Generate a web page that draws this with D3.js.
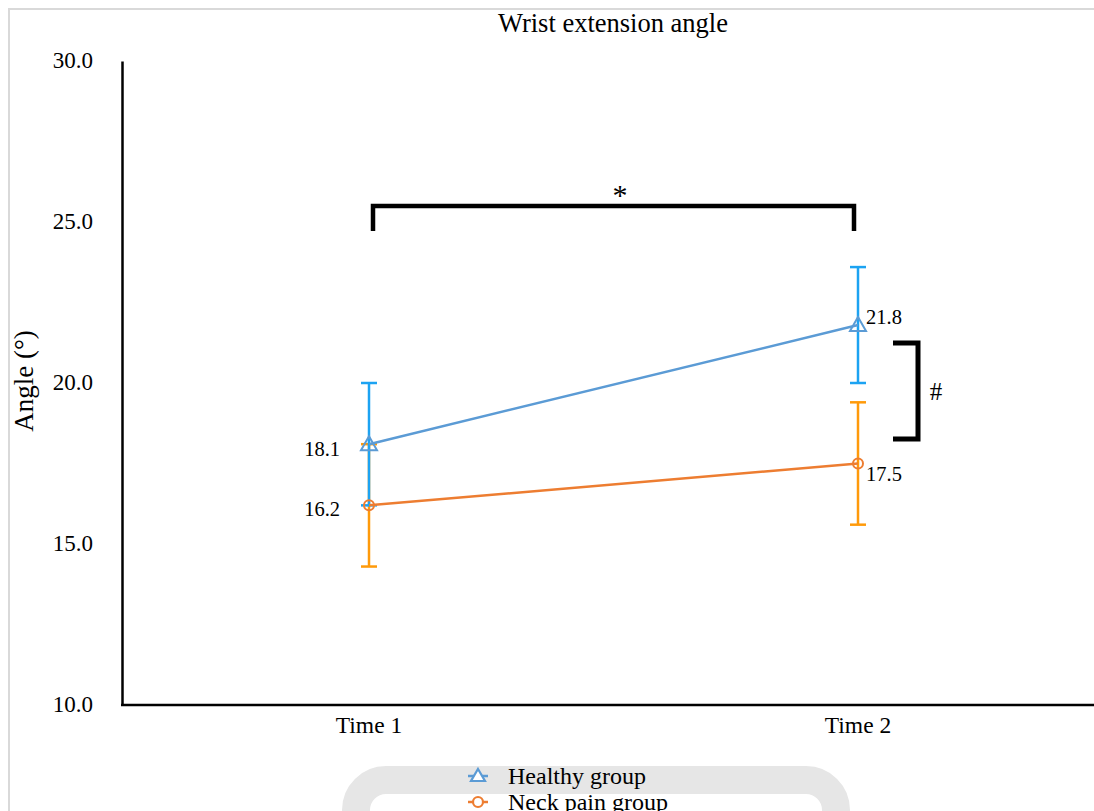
<!DOCTYPE html>
<html>
<head>
<meta charset="utf-8">
<script src="https://cdn.jsdelivr.net/npm/d3@7"></script>
<style>
  body { margin: 0; background: #fff; }
  svg { display: block; font-family: "Liberation Serif", "Times New Roman", serif; }
</style>
</head>
<body>
<div id="chart"></div>
<script>
// data
const categories = ["Time 1", "Time 2"];
const healthy = [18.1, 21.8];
const healthySd = [1.9, 1.8];
const neckPain = [16.2, 17.5];
const neckPainSd = [1.9, 1.9];
const yTicks = [10, 15, 20, 25, 30];

const W = 1094, H = 811;
const svg = d3.select("#chart").append("svg").attr("width", W).attr("height", H);

// outer frame (only left + top visible)
svg.append("path").attr("d", `M 9 ${H} V 9 H ${W}`)
  .attr("fill", "none").attr("stroke", "#d9d9d9").attr("stroke-width", 2);

const y = d3.scaleLinear().domain([10, 30]).range([705, 61]);
const x = d3.scalePoint().domain(categories).range([369, 858]);

// title
svg.append("text").attr("x", 613).attr("y", 32).attr("text-anchor", "middle")
  .style("font-size", "26.5px").text("Wrist extension angle");

// y label
svg.append("text").attr("transform", "translate(33,381) rotate(-90)")
  .attr("text-anchor", "middle").style("font-size", "27px").text("Angle (°)");

// y axis
const ya = svg.append("g").attr("transform", "translate(122,0)")
  .call(d3.axisLeft(y).tickValues(yTicks).tickFormat(d3.format(".1f")).tickSize(0).tickPadding(29));
ya.select(".domain").attr("stroke", "#000").attr("stroke-width", 2.5);
ya.selectAll("text").style("font-size", "23px").style("font-family", "Liberation Serif").attr("dy", "0.3em");

// x axis
svg.append("line").attr("x1", 121).attr("x2", W).attr("y1", y(10)).attr("y2", y(10))
  .attr("stroke", "#000").attr("stroke-width", 2.5);
svg.selectAll(".xl").data(categories).enter().append("text")
  .attr("x", d => x(d)).attr("y", 733).attr("text-anchor", "middle")
  .style("font-size", "23.5px").text(d => d);

const series = [
  { name: "Healthy group", vals: healthy, sd: healthySd, line: "#5b9bd5", err: "#1ca3f2", marker: "tri" },
  { name: "Neck pain group", vals: neckPain, sd: neckPainSd, line: "#ed7d31", err: "#ff9a0a", marker: "circ" }
];

const lineGen = d3.line().x((d, i) => x(categories[i])).y(d => y(d));

// error bars (healthy drawn after so blue sits on top like reference)
[series[1], series[0]].forEach(s => {
  const g = svg.append("g");
  s.vals.forEach((v, i) => {
    const cx = x(categories[i]);
    g.append("line").attr("x1", cx).attr("x2", cx)
      .attr("y1", y(v + s.sd[i])).attr("y2", y(v - s.sd[i]))
      .attr("stroke", s.err).attr("stroke-width", 2.5);
    [v + s.sd[i], v - s.sd[i]].forEach(e => {
      g.append("line").attr("x1", cx - 8).attr("x2", cx + 8)
        .attr("y1", y(e)).attr("y2", y(e))
        .attr("stroke", s.err).attr("stroke-width", 2.5);
    });
  });
});

series.forEach(s => {
  svg.append("path").attr("d", lineGen(s.vals)).attr("fill", "none")
    .attr("stroke", s.line).attr("stroke-width", 2.5);
  s.vals.forEach((v, i) => {
    const cx = x(categories[i]), cy = y(v);
    if (s.marker === "tri") {
      svg.append("path").attr("d", `M ${cx} ${cy - 8} L ${cx + 8} ${cy + 6} L ${cx - 8} ${cy + 6} Z`)
        .attr("fill", "none").attr("stroke", s.line).attr("stroke-width", 2);
    } else {
      svg.append("circle").attr("cx", cx).attr("cy", cy).attr("r", 5)
        .attr("fill", "none").attr("stroke", s.line).attr("stroke-width", 2);
    }
  });
});

// data labels
const lab = (t, px, py, anchor) => svg.append("text").attr("x", px).attr("y", py)
  .attr("text-anchor", anchor).style("font-size", "20.5px").text(t);
lab(healthy[0].toFixed(1), x(categories[0]) - 29, y(healthy[0]) + 12, "end");
lab(neckPain[0].toFixed(1), x(categories[0]) - 29, y(neckPain[0]) + 11, "end");
lab(healthy[1].toFixed(1), x(categories[1]) + 8, y(healthy[1]) - 1, "start");
lab(neckPain[1].toFixed(1), x(categories[1]) + 8, y(neckPain[1]) + 17, "start");

// significance brackets
svg.append("path").attr("d", `M ${x(categories[0]) + 4} 231 V 206 H ${x(categories[1]) - 4} V 231`)
  .attr("fill", "none").attr("stroke", "#000").attr("stroke-width", 4.5);
svg.append("text").attr("x", 620).attr("y", 205).attr("text-anchor", "middle")
  .style("font-size", "30px").text("*");
svg.append("path").attr("d", `M 893 343 H 918 V 439 H 893`)
  .attr("fill", "none").attr("stroke", "#000").attr("stroke-width", 5);
svg.append("text").attr("x", 936).attr("y", 400).attr("text-anchor", "middle")
  .style("font-size", "25px").text("#");

// legend box (cut off at bottom)
svg.append("rect").attr("x", 356).attr("y", 780).attr("width", 480).attr("height", 80)
  .attr("rx", 30).attr("fill", "none").attr("stroke", "#e6e6e6").attr("stroke-width", 28);

const lg = svg.append("g");
series.forEach((s, i) => {
  const ly = 776 + i * 26;
  lg.append("line").attr("x1", 468).attr("x2", 488).attr("y1", ly).attr("y2", ly)
    .attr("stroke", s.line).attr("stroke-width", 2.5);
  if (s.marker === "tri") {
    lg.append("path").attr("d", `M 478 ${ly - 7} L 485 ${ly + 5} L 471 ${ly + 5} Z`)
      .attr("fill", "#fff").attr("stroke", s.line).attr("stroke-width", 2.2);
  } else {
    lg.append("circle").attr("cx", 478).attr("cy", ly).attr("r", 5)
      .attr("fill", "#fff").attr("stroke", s.line).attr("stroke-width", 2.2);
  }
  lg.append("text").attr("x", 508).attr("y", ly + 8).style("font-size", "24px").text(s.name);
});
</script>
</body>
</html>
